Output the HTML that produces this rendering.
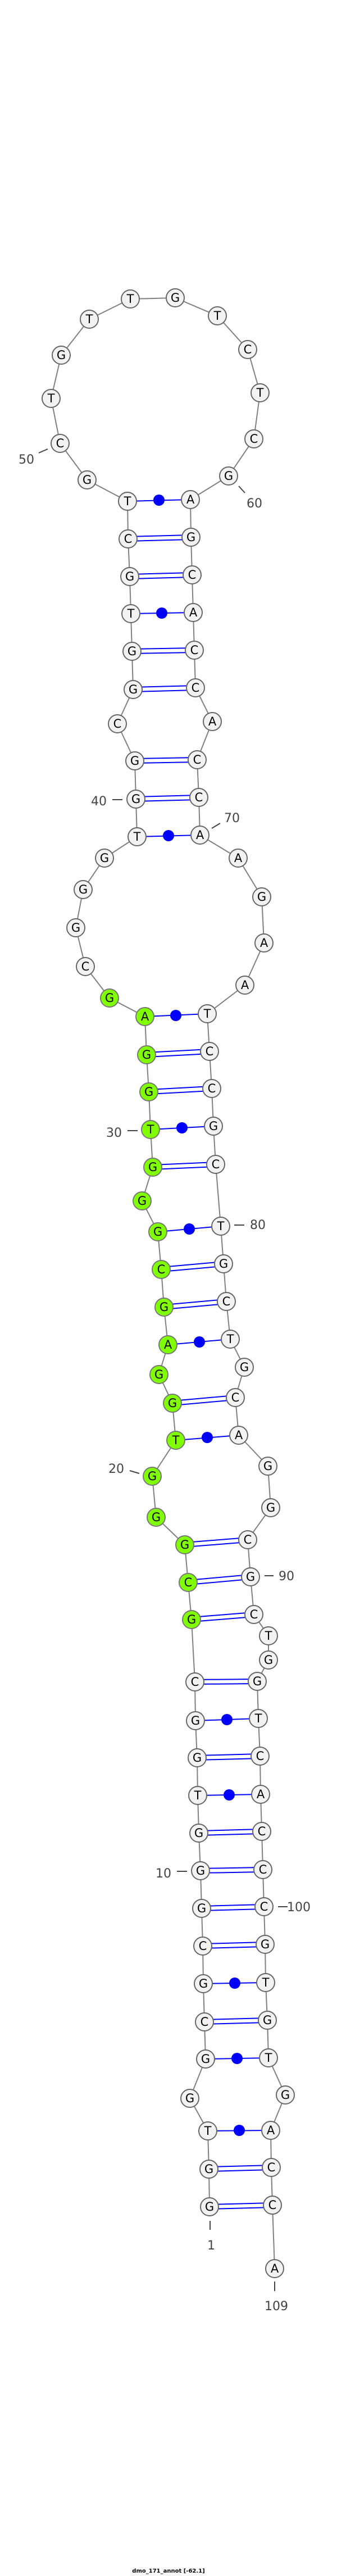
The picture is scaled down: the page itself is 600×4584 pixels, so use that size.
<!DOCTYPE html>
<html><head><meta charset="utf-8"><style>
html,body{margin:0;padding:0;background:#fff}
svg{display:block}
.n{fill:#f2f2f2;stroke:#666;stroke-width:2}
.g{fill:#7fff00;stroke:#777;stroke-width:2}
.t{font-family:"DejaVu Sans","Liberation Sans",sans-serif;font-size:21px;text-anchor:middle;fill:#000}
.l{font-family:"DejaVu Sans","Liberation Sans",sans-serif;font-size:22px;text-anchor:middle;fill:#444}
.p{stroke:#00f;stroke-width:2;fill:none}
.k{stroke:#444;stroke-width:2}
</style></head><body>
<svg width="600" height="4584" viewBox="0 0 600 4584" xmlns="http://www.w3.org/2000/svg">
<polyline fill="none" stroke="#808080" stroke-width="2" points="373,3927 372,3860 370,3792 338,3734 366,3664 364,3598 362,3530 361,3463 359,3396 357,3329 354,3262 352,3195 351,3128 348,3062 347,2993 341,2882 335,2816 329,2749 278,2700 271,2627 313,2563 307,2497 283,2446 299,2393 292,2326 287,2259 281,2192 253,2137 272,2077 268,2010 265,1943 261,1877 258,1809 195,1776 152,1720 135,1651 148,1583 186,1527 244,1489 242,1422 240,1354 209,1288 237,1227 235,1159 233,1092 231,1026 228,959 227,892 155,854 107,789 91,709 109,632 159,568 232,532 312,530 387,562 441,622 463,699 452,781 407,847 339,889 340,956 342,1023 344,1090 346,1157 348,1224 378,1284 351,1352 354,1419 356,1486 424,1527 466,1596 470,1678 436,1753 369,1804 373,1871 377,1937 380,2004 384,2072 393,2182 398,2249 403,2316 410,2383 435,2433 419,2487 425,2554 477,2609 482,2683 441,2740 446,2806 452,2873 478,2911 478,2954 458,2992 460,3058 463,3125 464,3193 466,3259 468,3327 470,3393 472,3460 473,3528 476,3595 478,3662 508,3728 482,3791 483,3857 485,3924 489,4037"/>
<g class="p">
<!-- double pairs -->
<path d="M373,3923L485,3920M373,3931L485,3928"/>
<path d="M372,3856L483,3853M372,3864L483,3861"/>
<path d="M364,3594L476,3591M364,3602L476,3599"/>
<path d="M361,3459L472,3456M361,3467L472,3464"/>
<path d="M359,3392L470,3389M359,3400L470,3397"/>
<path d="M357,3325L468,3323M357,3333L468,3331"/>
<path d="M354,3258L466,3255M354,3266L466,3263"/>
<path d="M351,3124L463,3121M351,3132L463,3129"/>
<path d="M347,2989L458,2988M347,2997L458,2996"/>
<path d="M341,2878L452,2869M341,2886L452,2877"/>
<path d="M335,2812L446,2802M335,2820L446,2810"/>
<path d="M329,2745L441,2736M329,2753L441,2744"/>
<path d="M307,2493L419,2483M307,2501L419,2491"/>
<path d="M292,2322L403,2312M292,2330L403,2320"/>
<path d="M287,2255L398,2245M287,2263L398,2253"/>
<path d="M272,2073L384,2068M272,2081L384,2076"/>
<path d="M265,1939L377,1933M265,1947L377,1941"/>
<path d="M261,1873L373,1867M261,1881L373,1875"/>
<path d="M242,1418L354,1415M242,1426L354,1423"/>
<path d="M240,1350L351,1348M240,1358L351,1356"/>
<path d="M237,1223L348,1220M237,1231L348,1228"/>
<path d="M235,1155L346,1153M235,1163L346,1161"/>
<path d="M231,1022L342,1019M231,1030L342,1027"/>
<path d="M228,955L340,952M228,963L340,960"/>
<!-- single (GU/AU wobble) pairs -->
<path d="M370,3792L482,3791M366,3664L478,3662M362,3530L473,3528M352,3195L464,3193M348,3062L460,3058M313,2563L425,2554M299,2393L410,2383M281,2192L393,2182M268,2010L380,2004M258,1809L369,1804M244,1489L356,1486M233,1092L344,1090M227,892L339,889"/>
</g>
<g fill="#00f">
<circle cx="426" cy="3791" r="10"/><circle cx="422" cy="3663" r="10"/><circle cx="418" cy="3529" r="10"/><circle cx="408" cy="3194" r="10"/><circle cx="404" cy="3060" r="10"/><circle cx="369" cy="2558" r="10"/><circle cx="355" cy="2388" r="10"/><circle cx="337" cy="2187" r="10"/><circle cx="324" cy="2007" r="10"/><circle cx="313" cy="1807" r="10"/><circle cx="300" cy="1487" r="10"/><circle cx="288" cy="1091" r="10"/><circle cx="283" cy="890" r="10"/>
</g>
<g class="k">
<path d="M374,3952V3968M489,4060V4077M315,3330H333M495,3393H512M471,2804H487M231,2617L248,2622M417,2180H435M227,2012H245M200,1423H218M377,1474L392,1465M425,865L436,877M69,806L85,799"/>
</g>
<g class="l">
<text x="376" y="4003">1</text><text x="492" y="4111">109</text><text x="291" y="3341">10</text><text x="532" y="3401">100</text><text x="510" y="2812">90</text><text x="207" y="2621">20</text><text x="459" y="2187">80</text><text x="203" y="2023">30</text><text x="176" y="1433">40</text><text x="413" y="1463">70</text><text x="453" y="903">60</text><text x="47" y="825">50</text>
</g>
<g>
<circle class="n" cx="373" cy="3927" r="16"/><circle class="n" cx="372" cy="3860" r="16"/><circle class="n" cx="370" cy="3792" r="16"/><circle class="n" cx="338" cy="3734" r="16"/><circle class="n" cx="366" cy="3664" r="16"/><circle class="n" cx="364" cy="3598" r="16"/><circle class="n" cx="362" cy="3530" r="16"/><circle class="n" cx="361" cy="3463" r="16"/><circle class="n" cx="359" cy="3396" r="16"/><circle class="n" cx="357" cy="3329" r="16"/><circle class="n" cx="354" cy="3262" r="16"/><circle class="n" cx="352" cy="3195" r="16"/><circle class="n" cx="351" cy="3128" r="16"/><circle class="n" cx="348" cy="3062" r="16"/><circle class="n" cx="347" cy="2993" r="16"/>
<circle class="g" cx="341" cy="2882" r="16"/><circle class="g" cx="335" cy="2816" r="16"/><circle class="g" cx="329" cy="2749" r="16"/><circle class="g" cx="278" cy="2700" r="16"/><circle class="g" cx="271" cy="2627" r="16"/><circle class="g" cx="313" cy="2563" r="16"/><circle class="g" cx="307" cy="2497" r="16"/><circle class="g" cx="283" cy="2446" r="16"/><circle class="g" cx="299" cy="2393" r="16"/><circle class="g" cx="292" cy="2326" r="16"/><circle class="g" cx="287" cy="2259" r="16"/><circle class="g" cx="281" cy="2192" r="16"/><circle class="g" cx="253" cy="2137" r="16"/><circle class="g" cx="272" cy="2077" r="16"/><circle class="g" cx="268" cy="2010" r="16"/><circle class="g" cx="265" cy="1943" r="16"/><circle class="g" cx="261" cy="1877" r="16"/><circle class="g" cx="258" cy="1809" r="16"/><circle class="g" cx="195" cy="1776" r="16"/>
<circle class="n" cx="152" cy="1720" r="16"/><circle class="n" cx="135" cy="1651" r="16"/><circle class="n" cx="148" cy="1583" r="16"/><circle class="n" cx="186" cy="1527" r="16"/><circle class="n" cx="244" cy="1489" r="16"/><circle class="n" cx="242" cy="1422" r="16"/><circle class="n" cx="240" cy="1354" r="16"/><circle class="n" cx="209" cy="1288" r="16"/><circle class="n" cx="237" cy="1227" r="16"/><circle class="n" cx="235" cy="1159" r="16"/><circle class="n" cx="233" cy="1092" r="16"/><circle class="n" cx="231" cy="1026" r="16"/><circle class="n" cx="228" cy="959" r="16"/><circle class="n" cx="227" cy="892" r="16"/><circle class="n" cx="155" cy="854" r="16"/><circle class="n" cx="107" cy="789" r="16"/><circle class="n" cx="91" cy="709" r="16"/><circle class="n" cx="109" cy="632" r="16"/><circle class="n" cx="159" cy="568" r="16"/><circle class="n" cx="232" cy="532" r="16"/><circle class="n" cx="312" cy="530" r="16"/><circle class="n" cx="387" cy="562" r="16"/><circle class="n" cx="441" cy="622" r="16"/><circle class="n" cx="463" cy="699" r="16"/><circle class="n" cx="452" cy="781" r="16"/><circle class="n" cx="407" cy="847" r="16"/><circle class="n" cx="339" cy="889" r="16"/><circle class="n" cx="340" cy="956" r="16"/><circle class="n" cx="342" cy="1023" r="16"/><circle class="n" cx="344" cy="1090" r="16"/><circle class="n" cx="346" cy="1157" r="16"/><circle class="n" cx="348" cy="1224" r="16"/><circle class="n" cx="378" cy="1284" r="16"/><circle class="n" cx="351" cy="1352" r="16"/><circle class="n" cx="354" cy="1419" r="16"/><circle class="n" cx="356" cy="1486" r="16"/><circle class="n" cx="424" cy="1527" r="16"/><circle class="n" cx="466" cy="1596" r="16"/><circle class="n" cx="470" cy="1678" r="16"/><circle class="n" cx="436" cy="1753" r="16"/><circle class="n" cx="369" cy="1804" r="16"/><circle class="n" cx="373" cy="1871" r="16"/><circle class="n" cx="377" cy="1937" r="16"/><circle class="n" cx="380" cy="2004" r="16"/><circle class="n" cx="384" cy="2072" r="16"/><circle class="n" cx="393" cy="2182" r="16"/><circle class="n" cx="398" cy="2249" r="16"/><circle class="n" cx="403" cy="2316" r="16"/><circle class="n" cx="410" cy="2383" r="16"/><circle class="n" cx="435" cy="2433" r="16"/><circle class="n" cx="419" cy="2487" r="16"/><circle class="n" cx="425" cy="2554" r="16"/><circle class="n" cx="477" cy="2609" r="16"/><circle class="n" cx="482" cy="2683" r="16"/><circle class="n" cx="441" cy="2740" r="16"/><circle class="n" cx="446" cy="2806" r="16"/><circle class="n" cx="452" cy="2873" r="16"/><circle class="n" cx="478" cy="2911" r="16"/><circle class="n" cx="478" cy="2954" r="16"/><circle class="n" cx="458" cy="2992" r="16"/><circle class="n" cx="460" cy="3058" r="16"/><circle class="n" cx="463" cy="3125" r="16"/><circle class="n" cx="464" cy="3193" r="16"/><circle class="n" cx="466" cy="3259" r="16"/><circle class="n" cx="468" cy="3327" r="16"/><circle class="n" cx="470" cy="3393" r="16"/><circle class="n" cx="472" cy="3460" r="16"/><circle class="n" cx="473" cy="3528" r="16"/><circle class="n" cx="476" cy="3595" r="16"/><circle class="n" cx="478" cy="3662" r="16"/><circle class="n" cx="508" cy="3728" r="16"/><circle class="n" cx="482" cy="3791" r="16"/><circle class="n" cx="483" cy="3857" r="16"/><circle class="n" cx="485" cy="3924" r="16"/><circle class="n" cx="489" cy="4037" r="16"/>
</g>
<g class="t">
<text x="373" y="3934">G</text><text x="372" y="3867">G</text><text x="370" y="3799">T</text><text x="338" y="3741">G</text><text x="366" y="3671">G</text><text x="364" y="3605">C</text><text x="362" y="3537">G</text><text x="361" y="3470">C</text><text x="359" y="3403">G</text><text x="357" y="3336">G</text><text x="354" y="3269">G</text><text x="352" y="3202">T</text><text x="351" y="3135">G</text><text x="348" y="3069">G</text><text x="347" y="3000">C</text><text x="341" y="2889">G</text><text x="335" y="2823">C</text><text x="329" y="2756">G</text><text x="278" y="2707">G</text><text x="271" y="2634">G</text><text x="313" y="2570">T</text><text x="307" y="2504">G</text><text x="283" y="2453">G</text><text x="299" y="2400">A</text><text x="292" y="2333">G</text><text x="287" y="2266">C</text><text x="281" y="2199">G</text><text x="253" y="2144">G</text><text x="272" y="2084">G</text><text x="268" y="2017">T</text><text x="265" y="1950">G</text><text x="261" y="1884">G</text><text x="258" y="1816">A</text><text x="195" y="1783">G</text><text x="152" y="1727">C</text><text x="135" y="1658">G</text><text x="148" y="1590">G</text><text x="186" y="1534">G</text><text x="244" y="1496">T</text><text x="242" y="1429">G</text><text x="240" y="1361">G</text><text x="209" y="1295">C</text><text x="237" y="1234">G</text><text x="235" y="1166">G</text><text x="233" y="1099">T</text><text x="231" y="1033">G</text><text x="228" y="966">C</text><text x="227" y="899">T</text><text x="155" y="861">G</text><text x="107" y="796">C</text><text x="91" y="716">T</text><text x="109" y="639">G</text><text x="159" y="575">T</text><text x="232" y="539">T</text><text x="312" y="537">G</text><text x="387" y="569">T</text><text x="441" y="629">C</text><text x="463" y="706">T</text><text x="452" y="788">C</text><text x="407" y="854">G</text><text x="339" y="896">A</text><text x="340" y="963">G</text><text x="342" y="1030">C</text><text x="344" y="1097">A</text><text x="346" y="1164">C</text><text x="348" y="1231">C</text><text x="378" y="1291">A</text><text x="351" y="1359">C</text><text x="354" y="1426">C</text><text x="356" y="1493">A</text><text x="424" y="1534">A</text><text x="466" y="1603">G</text><text x="470" y="1685">A</text><text x="436" y="1760">A</text><text x="369" y="1811">T</text><text x="373" y="1878">C</text><text x="377" y="1944">C</text><text x="380" y="2011">G</text><text x="384" y="2079">C</text><text x="393" y="2189">T</text><text x="398" y="2256">G</text><text x="403" y="2323">C</text><text x="410" y="2390">T</text><text x="435" y="2440">G</text><text x="419" y="2494">C</text><text x="425" y="2561">A</text><text x="477" y="2616">G</text><text x="482" y="2690">G</text><text x="441" y="2747">C</text><text x="446" y="2813">G</text><text x="452" y="2880">C</text><text x="478" y="2918">T</text><text x="478" y="2961">G</text><text x="458" y="2999">G</text><text x="460" y="3065">T</text><text x="463" y="3132">C</text><text x="464" y="3200">A</text><text x="466" y="3266">C</text><text x="468" y="3334">C</text><text x="470" y="3400">C</text><text x="472" y="3467">G</text><text x="473" y="3535">T</text><text x="476" y="3602">G</text><text x="478" y="3669">T</text><text x="508" y="3735">G</text><text x="482" y="3798">A</text><text x="483" y="3864">C</text><text x="485" y="3931">C</text><text x="489" y="4044">A</text>
</g>
<text x="300" y="4578" font-family="DejaVu Sans, Liberation Sans, sans-serif" font-size="10" font-weight="bold" text-anchor="middle" fill="#000">dmo_171_annot [-62.1]</text>
</svg>
</body></html>
